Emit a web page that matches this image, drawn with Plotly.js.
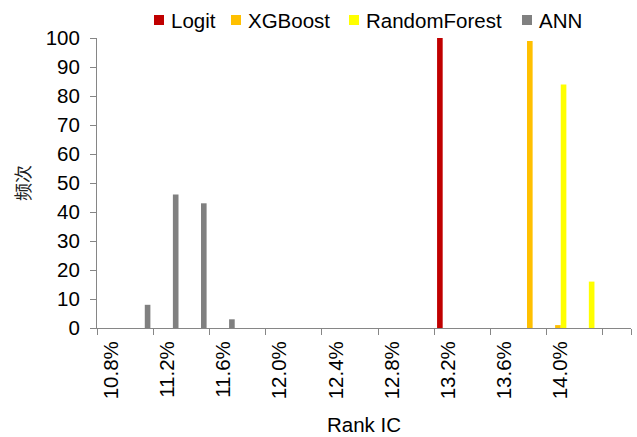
<!DOCTYPE html>
<html>
<head>
<meta charset="utf-8">
<script src="https://cdn.plot.ly/plotly-3.0.1.min.js"></script>
<style>html,body{margin:0;padding:0;background:#fff;}#chart{width:637px;height:437px;}</style>
</head>
<body>
<div id="chart"></div>
<script>
var categories = ['10.8%','11.0%','11.2%','11.4%','11.6%','11.8%','12.0%','12.2%','12.4%','12.6%','12.8%','13.0%','13.2%','13.4%','13.6%','13.8%','14.0%','14.2%','14.4%'];
var logit        = [0,0,0,0,0,0,0,0,0,0,0,0,100,0,0,0,0,0,0];
var xgboost      = [0,0,0,0,0,0,0,0,0,0,0,0,0,0,0,99,1,0,0];
var randomForest = [0,0,0,0,0,0,0,0,0,0,0,0,0,0,0,0,84,16,0];
var ann          = [0,8,46,43,3,0,0,0,0,0,0,0,0,0,0,0,0,0,0];
var seriesNames  = ['Logit','XGBoost','RandomForest','ANN'];
var seriesColors = ['#C00000','#FFC000','#FFFF00','#808080'];
var tickCats   = ['10.8%','11.2%','11.6%','12.0%','12.4%','12.8%','13.2%','13.6%','14.0%','14.4%'];
var tickLabels = ['10.8%','11.2%','11.6%','12.0%','12.4%','12.8%','13.2%','13.6%','14.0%',''];
var yTicks = [0,10,20,30,40,50,60,70,80,90,100];

var FONT = 'Liberation Sans, Arial, sans-serif';
var W = 637, H = 437, ML = 97, MR = 6, MT = 38, MB = 109;
var PW = W - ML - MR, PH = H - MT - MB;
function px2x(px){ return (px - ML) / PW; }
function py2y(py){ return (H - MB - py) / PH; }

var seriesData = [logit, xgboost, randomForest, ann];
var traces = seriesNames.map(function(n, i){
  return {type:'bar', name:n, x:categories, y:seriesData[i], marker:{color:seriesColors[i]}, showlegend:false};
});

// legend drawn as shapes + text (Excel-style compact legend)
var legendTextX = [170, 247, 365, 538];
var legendY = 20;
var shapes = [], annotations = [];
seriesNames.forEach(function(n, i){
  var tx = legendTextX[i];
  shapes.push({type:'rect', xref:'paper', yref:'paper',
    x0:px2x(tx-16), x1:px2x(tx-6), y0:py2y(legendY+5), y1:py2y(legendY-5),
    fillcolor:seriesColors[i], line:{width:0}});
  annotations.push({xref:'paper', yref:'paper', x:px2x(tx), y:py2y(legendY),
    xanchor:'left', yanchor:'middle', text:n, showarrow:false, borderpad:0,
    font:{family:FONT, size:20.5, color:'#000'}});
});

var layout = {
  width:W, height:H,
  margin:{l:ML, r:MR, t:MT, b:MB, pad:0},
  paper_bgcolor:'#fff', plot_bgcolor:'#fff',
  font:{family:FONT, size:20.5, color:'#000'},
  barmode:'group', bargap:0.2, bargroupgap:0,
  showlegend:false,
  shapes:shapes, annotations:annotations,
  xaxis:{type:'category', categoryorder:'array', categoryarray:categories,
         range:[-0.5,18.5], tickmode:'array', tickvals:tickCats, ticktext:tickLabels,
         tickson:'boundaries', ticks:'outside', ticklen:6, tickcolor:'#868686', tickwidth:1,
         tickangle:-90, showline:true, linecolor:'#868686', linewidth:1,
         showgrid:false, zeroline:false, automargin:false, ticklabelstandoff:4,
         tickfont:{family:FONT, size:20.5, color:'#000'},
         title:{text:'Rank IC', font:{family:FONT, size:20.5, color:'#000'}, standoff:19}},
  yaxis:{range:[0,100], tickmode:'array', tickvals:yTicks, ticks:'outside', ticklen:6,
         tickcolor:'#868686', tickwidth:1, showline:true, linecolor:'#868686', linewidth:1,
         showgrid:false, zeroline:false, automargin:false, ticklabelstandoff:6,
         tickfont:{family:FONT, size:20.5, color:'#000'},
         title:{text:'频次', font:{family:'Noto Sans CJK SC', size:18, color:'#222'}, standoff:10}}
};
Plotly.newPlot('chart', traces, layout, {displayModeBar:false, staticPlot:true});
</script>
</body>
</html>
